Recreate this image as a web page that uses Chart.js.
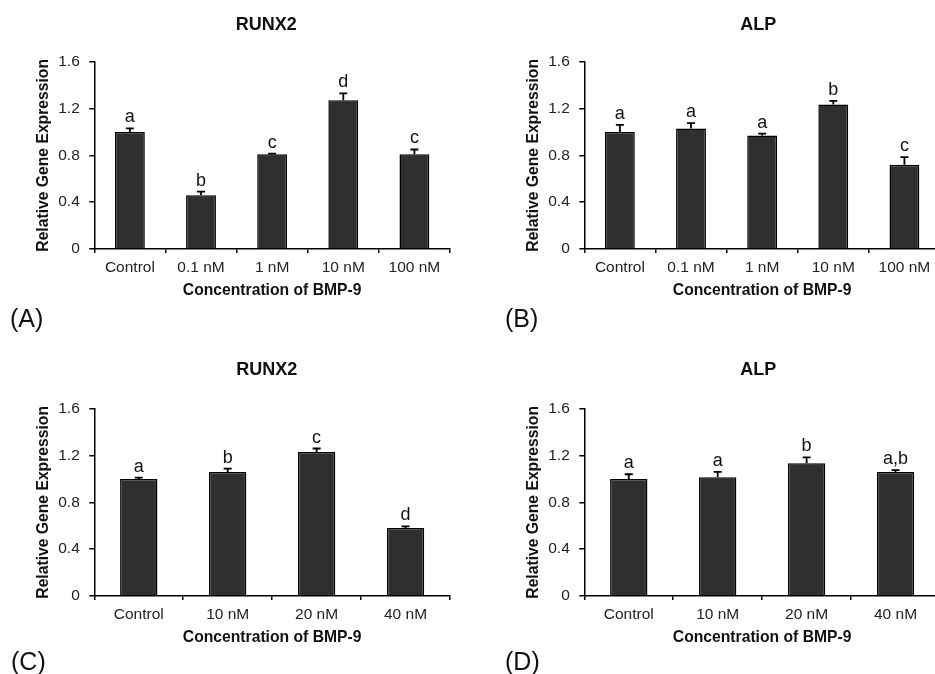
<!DOCTYPE html>
<html><head><meta charset="utf-8">
<script src="https://cdn.jsdelivr.net/npm/chart.js@4.4.0/dist/chart.umd.min.js"></script>
<style>
html,body{margin:0;padding:0;background:#fff;width:935px;height:674px;overflow:hidden;position:relative}
canvas{position:absolute}
</style></head><body>
<canvas id="cA" width="470" height="347" style="left:0px;top:0px"></canvas>
<canvas id="cB" width="470" height="347" style="left:490px;top:0px"></canvas>
<canvas id="cC" width="470" height="327" style="left:0px;top:347px"></canvas>
<canvas id="cD" width="470" height="327" style="left:490px;top:347px"></canvas>
<script>
// ---- data ----
const categoriesAB = ['Control', '0.1 nM', '1 nM', '10 nM', '100 nM'];
const categoriesCD = ['Control', '10 nM', '20 nM', '40 nM'];
const yTickLabels = ['0', '0.4', '0.8', '1.2', '1.6'];

const valuesA = [1.00, 0.46, 0.81, 1.27, 0.81];
const errorsA = [0.03, 0.03, 0.005, 0.06, 0.04];
const lettersA = ['a', 'b', 'c', 'd', 'c'];

const valuesB = [1.00, 1.03, 0.97, 1.235, 0.72];
const errorsB = [0.06, 0.045, 0.015, 0.03, 0.065];
const lettersB = ['a', 'a', 'a', 'b', 'c'];

const valuesC = [1.00, 1.06, 1.23, 0.58, ];
const errorsC = [0.012, 0.028, 0.03, 0.014];
const lettersC = ['a', 'b', 'c', 'd'];

const valuesD = [1.00, 1.015, 1.135, 1.06];
const errorsD = [0.04, 0.045, 0.05, 0.015];
const lettersD = ['a', 'a', 'b', 'a,b'];

const FAMILY = '"Liberation Sans", Arial, sans-serif';

const annotatePlugin = {
  id: 'annot',
  afterDatasetsDraw(chart, args, opts) {
    const ctx = chart.ctx;
    const y = chart.scales.y;
    const meta = chart.getDatasetMeta(0);
    ctx.save();
    meta.data.forEach((bar, i) => {
      const v = chart.data.datasets[0].data[i];
      const e = opts.errors[i];
      const top = y.getPixelForValue(v + e);
      ctx.strokeStyle = '#000';
      ctx.lineWidth = 1.8;
      ctx.beginPath();
      ctx.moveTo(bar.x, bar.y);
      ctx.lineTo(bar.x, top);
      ctx.moveTo(bar.x - 4, top);
      ctx.lineTo(bar.x + 4, top);
      ctx.stroke();
      ctx.fillStyle = '#111';
      ctx.font = '18px ' + FAMILY;
      ctx.textAlign = 'center';
      ctx.textBaseline = 'alphabetic';
      ctx.fillText(opts.letters[i], bar.x, top - 6);
    });
    ctx.restore();
  },
  afterDraw(chart, args, opts) {
    const ctx = chart.ctx;
    ctx.save();
    ctx.fillStyle = '#111';
    ctx.textBaseline = 'alphabetic';
    ctx.textAlign = 'center';
    ctx.font = 'bold 18px ' + FAMILY;
    ctx.fillText(opts.title, opts.titleX, opts.titleY);
    ctx.textAlign = 'left';
    ctx.font = '25px ' + FAMILY;
    ctx.fillText(opts.panel, opts.panelX, opts.panelY);
    ctx.restore();
  }
};

function makeChart(id, cats, vals, errs, letters, title, titleX, titleY, panel, panelX, panelY, padBottom) {
  return new Chart(document.getElementById(id), {
    type: 'bar',
    data: {
      labels: cats,
      datasets: [{
        data: vals,
        backgroundColor: '#2f2f2f',
        borderColor: '#000',
        borderWidth: 1.5,
        barPercentage: 0.42,
        categoryPercentage: 1
      }]
    },
    options: {
      responsive: false,
      maintainAspectRatio: false,
      animation: false,
      devicePixelRatio: 1,
      layout: { padding: { left: 34.1, top: 61.7, right: 20, bottom: padBottom } },
      plugins: {
        legend: { display: false },
        tooltip: { enabled: false },
        annot: { errors: errs, letters: letters, title: title, titleX: titleX, titleY: titleY, panel: panel, panelX: panelX, panelY: panelY }
      },
      scales: {
        x: {
          type: 'category',
          offset: true,
          grid: { display: true, offset: true, drawOnChartArea: false, drawTicks: true, tickLength: 4, color: '#000', lineWidth: 1.5 },
          border: { display: true, color: '#000', width: 1.5 },
          ticks: { color: '#222', font: { family: FAMILY, size: 15.5 }, padding: 5.2, maxRotation: 0, autoSkip: false },
          title: { display: true, text: 'Concentration of BMP-9', color: '#111', font: { family: FAMILY, size: 15.7, weight: 'bold' }, padding: 0 },
          afterFit: s => { s.height = 51.4; }
        },
        y: {
          min: 0, max: 1.6,
          grid: { display: true, drawOnChartArea: false, drawTicks: true, tickLength: 5, color: '#000', lineWidth: 1.5 },
          border: { display: true, color: '#000', width: 1.5 },
          ticks: { stepSize: 0.4, color: '#222', font: { family: FAMILY, size: 15.5 }, padding: 9.5,
                   callback: (v, i) => yTickLabels[i] },
          title: { display: true, text: 'Relative Gene Expression', color: '#111', font: { family: FAMILY, size: 15.7, weight: 'bold' }, padding: 0 },
          afterFit: s => { s.width = 60.2; }
        }
      }
    },
    plugins: [annotatePlugin]
  });
}

makeChart('cA', categoriesAB, valuesA, errorsA, lettersA, 'RUNX2', 266.3, 29.5, '(A)', 10, 326.7, 46.6);
makeChart('cB', categoriesAB, valuesB, errorsB, lettersB, 'ALP', 268.3, 29.5, '(B)', 15, 326.7, 46.6);
makeChart('cC', categoriesCD, valuesC, errorsC, lettersC, 'RUNX2', 266.7, 28, '(C)', 11, 323, 26.6);
makeChart('cD', categoriesCD, valuesD, errorsD, lettersD, 'ALP', 268.3, 28, '(D)', 15, 323, 26.6);
</script>
</body></html>
